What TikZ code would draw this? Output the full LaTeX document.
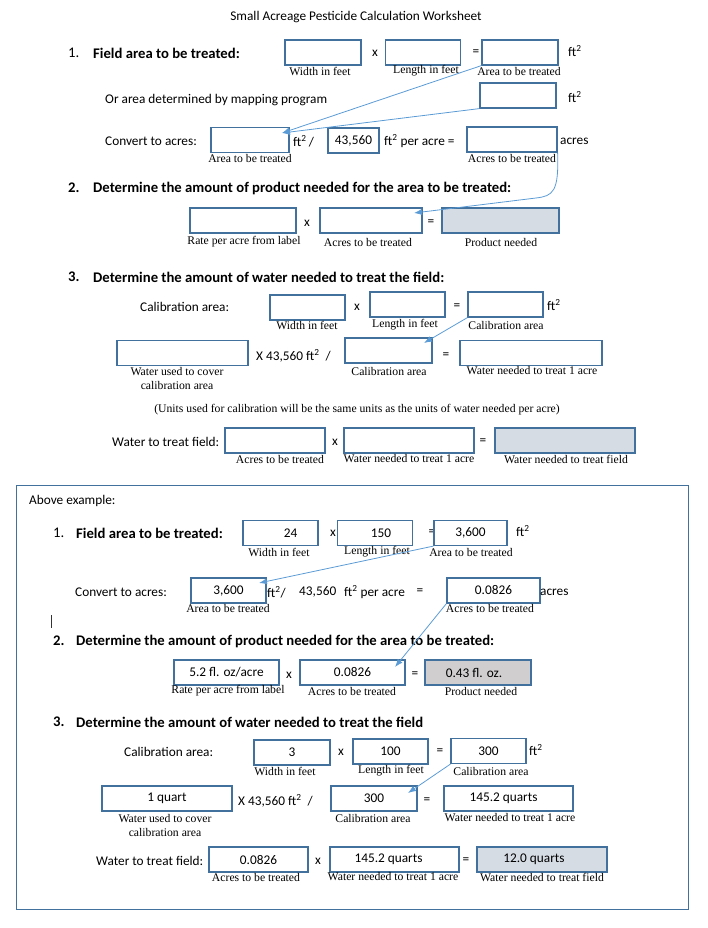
\documentclass[tikz,border=0pt]{standalone}
\usepackage{fontspec}
\setmainfont{Carlito}
\newfontfamily\lblfont{Liberation Serif}
\usepackage{tikz}
\usetikzlibrary{arrows.meta}
\definecolor{boxblue}{HTML}{41719C}
\definecolor{arrowblue}{HTML}{5B9BD5}
\definecolor{shadeblue}{HTML}{D6DCE4}
\definecolor{shadegray}{HTML}{D0CECE}
\begin{document}
\begin{tikzpicture}[x=1pt,y=-1pt]

\tikzstyle{txt}=[font=\fontsize{13.3}{16}\selectfont, inner sep=0pt]
\tikzstyle{lefttxt}=[txt, anchor=west]
\tikzstyle{num}=[font=\fontsize{14.7}{17}\selectfont, inner sep=0pt, anchor=west]
\tikzstyle{head}=[font=\fontsize{14.7}{17}\selectfont\bfseries, inner sep=0pt, anchor=west]
\tikzstyle{lbl}=[font=\lblfont\fontsize{11.7}{14}\selectfont, inner sep=0pt, align=center]
\tikzstyle{box}=[rectangle, draw=boxblue, line width=1.2pt, minimum height=25pt, font=\fontsize{13.3}{16}\selectfont]
\tikzstyle{shaded}=[box, fill=shadeblue]
\tikzstyle{arr}=[draw=arrowblue, line width=0.8pt, -{Latex[length=8pt,width=6pt]}]
\newcommand{\ftsq}{ft\textsuperscript{2}}

\useasboundingbox (0,0) rectangle (707,928);

\node[txt] (title) at (356,17) {Small Acreage Pesticide Calculation Worksheet};

% worksheet, step 1
\node[num] (one) at (68,53) {1.};
\node[head] (fieldhead) at (93,53) {Field area to be treated:};
\node[box, minimum width=76pt] (width) at (323,52.5) {};
\node[txt] (times1) at (375,53) {x};
\node[box, minimum width=75pt] (length) at (423,52.5) {};
\node[txt] (eq1) at (476,53) {=};
\node[box, minimum width=76pt] (area) at (520,52.5) {};
\node[lefttxt] (ft1) at (568,51) {\ftsq};
\node[lbl] (widthl) at (320,71) {Width in feet};
\node[lbl] (lengthl) at (426,71) {Length in feet};
\node[lbl] (areal) at (519,71) {Area to be treated};

\node[lefttxt] (mapping) at (105,100) {Or area determined by mapping program};
\node[box, minimum width=76pt] (maparea) at (518,95.5) {};
\node[lefttxt] (ft2) at (568,97) {\ftsq};

\node[lefttxt] (convert) at (105,141) {Convert to acres:};
\node[box, minimum width=78pt] (convarea) at (250,140) {};
\node[lefttxt] (per1) at (293,141) {\ftsq\,/};
\node[box, minimum width=51pt] (factor) at (353.5,140.5) {43,560};
\node[lefttxt] (per2) at (384,141) {\ftsq\ per acre =};
\node[box, minimum width=90pt] (acres) at (512,139.5) {};
\node[lefttxt] (acresu) at (560,141) {acres};
\node[lbl] (convareal) at (250,158) {Area to be treated};
\node[lbl] (acresl) at (512,158) {Acres to be treated};

% worksheet, step 2
\node[head] (two) at (68,188) {2.};
\node[head] (producthead) at (93,188) {Determine the amount of product needed for the area to be treated:};
\node[box, minimum width=106pt] (rate) at (243,220.5) {};
\node[txt] (times2) at (307,223) {x};
\node[box, minimum width=102pt] (prodacres) at (371,220.5) {};
\node[txt] (eq2) at (431,223) {=};
\node[shaded, minimum width=117pt] (product) at (500.5,220.5) {};
\node[lbl] (ratel) at (244,242) {Rate per acre from label};
\node[lbl] (prodacresl) at (368,242) {Acres to be treated};
\node[lbl] (productl) at (501,242) {Product needed};

% worksheet, step 3
\node[head] (three) at (68,277) {3.};
\node[head] (waterhead) at (93,277) {Determine the amount of water needed to treat the field:};
\node[lefttxt] (calib) at (140,307) {Calibration area:};
\node[box, minimum width=75pt] (cwidth) at (307.5,307.5) {};
\node[txt] (times3) at (357,307) {x};
\node[box, minimum width=75pt] (clength) at (407.5,304.5) {};
\node[txt] (eq3) at (457,307) {=};
\node[box, minimum width=75pt] (carea) at (505.5,304.5) {};
\node[lefttxt] (ft3) at (547,305) {\ftsq};
\node[lbl] (cwidthl) at (307,325) {Width in feet};
\node[lbl] (clengthl) at (405,325) {Length in feet};
\node[lbl] (careal) at (506,325) {Calibration area};

\node[box, minimum width=131pt] (used) at (182.5,353) {};
\node[lefttxt] (mult) at (256,356) {X 43,560 \ftsq\ \ /};
\node[box, minimum width=87pt] (divarea) at (388.5,350.5) {};
\node[txt] (eq4) at (446,356) {=};
\node[box, minimum width=142pt] (peracre) at (531,353) {};
\node[lbl] (usedl) at (177,378) {Water used to cover\\calibration area};
\node[lbl] (divareal) at (389,371) {Calibration area};
\node[lbl] (peracrel) at (532,371) {Water needed to treat 1 acre};

\node[lbl] (units) at (357,410) {(Units used for calibration will be the same units as the units of water needed per acre)};

\node[lefttxt] (field) at (112,442) {Water to treat field:};
\node[box, minimum width=100pt] (facres) at (275,440.5) {};
\node[txt] (times4) at (335,442) {x};
\node[box, minimum width=130pt] (fper) at (409,440.5) {};
\node[txt] (eq5) at (483,442) {=};
\node[shaded, minimum width=140pt] (fwater) at (565,440.5) {};
\node[lbl] (facresl) at (280,459) {Acres to be treated};
\node[lbl] (fperl) at (409,459) {Water needed to treat 1 acre};
\node[lbl] (fwaterl) at (566,459) {Water needed to treat field};

\coordinate (tipA) at (282,133);
\coordinate (tipB) at (414,213);
\coordinate (tipC) at (424,343);
\draw[arr] (area.south west) -- (tipA);
\draw[arr] (maparea.south west) -- (tipA);
\draw[arr] (acres.south east) .. controls (559,192) and (553,196) .. (536,198) -- (tipB);
\draw[arr] (carea.south west) -- (tipC);

% worked example
\draw[draw=boxblue, line width=1pt] (16.5,485) rectangle (688,909);
\node[lefttxt] (above) at (29,501) {Above example:};

\node[num] (exone) at (53,533) {1.};
\node[head] (exfieldhead) at (76,533) {Field area to be treated:};
\node[box, minimum width=75pt] (exwidth) at (280.5,533) {\hspace*{20pt}24};
\node[txt] (extimes1) at (333,533) {x};
\node[box, minimum width=75pt] (exlength) at (375,533) {\hspace*{12pt}150};
\node[txt] (exeq1) at (432,533) {=};
\node[box, minimum width=73pt] (exarea) at (470.5,533) {3,600};
\node[lefttxt] (exft1) at (516,531) {\ftsq};
\node[lbl] (exwidthl) at (279,552) {Width in feet};
\node[lbl] (exlengthl) at (377,552) {Length in feet};
\node[lbl] (exareal) at (471,552) {Area to be treated};

\node[lefttxt] (exconvert) at (75,592) {Convert to acres:};
\node[box, minimum width=75pt] (exconvarea) at (228.5,590.5) {3,600};
\node[lefttxt] (exper1) at (267,592) {\ftsq/};
\node[lefttxt] (exfactor) at (299,592) {43,560};
\node[lefttxt] (exper2) at (344,592) {\ftsq\ per acre};
\node[txt] (exeq2) at (420,592) {=};
\node[box, minimum width=93pt] (exacres) at (493.5,590.5) {0.0826};
\node[lefttxt] (exacresu) at (540,592) {acres};
\node[lbl] (exconvareal) at (228,608) {Area to be treated};
\node[lbl] (exacresl) at (490,608) {Acres to be treated};
\draw[black!80, line width=0.6pt] (51,615) -- (51,628);

\node[head] (extwo) at (53,641) {2.};
\node[head] (exproducthead) at (76,641) {Determine the amount of product needed for the area to be treated:};
\node[box, minimum width=105pt] (exrate) at (226.5,672.5) {5.2 fl. oz/acre};
\node[txt] (extimes2) at (289,675) {x};
\node[box, minimum width=105pt] (exprodacres) at (352.5,672.5) {0.0826};
\node[txt] (exeq3) at (415,675) {=};
\node[box, fill=shadegray, minimum width=106pt] (exproduct) at (478,672.5) {0.43 fl. oz.\hspace*{8pt}};
\node[lbl] (exratel) at (228,691) {Rate per acre from label};
\node[lbl] (exprodacresl) at (352,691) {Acres to be treated};
\node[lbl] (exproductl) at (481,691) {Product needed};

\node[head] (exthree) at (53,722) {3.};
\node[head] (exwaterhead) at (76,722) {Determine the amount of water needed to treat the field};
\node[lefttxt] (excalib) at (124,752) {Calibration area:};
\node[box, minimum width=76pt] (excwidth) at (292,752.5) {3};
\node[txt] (extimes3) at (341,752) {x};
\node[box, minimum width=75pt] (exclength) at (390.5,751.5) {100};
\node[txt] (exeq4) at (440,752) {=};
\node[box, minimum width=75pt] (excarea) at (488.5,751) {300};
\node[lefttxt] (exft3) at (529,750) {\ftsq};
\node[lbl] (excwidthl) at (285,771) {Width in feet};
\node[lbl] (exclengthl) at (391,771) {Length in feet};
\node[lbl] (excareal) at (491,771) {Calibration area};

\node[box, minimum width=130pt] (exused) at (167,798.5) {1 quart};
\node[lefttxt] (exmult) at (238,801) {X 43,560 \ftsq\ \ /};
\node[box, minimum width=86pt] (exdivarea) at (374,798.5) {300};
\node[txt] (exeq5) at (427,801) {=};
\node[box, minimum width=129pt] (experacre) at (508.5,798.5) {145.2 quarts\hspace*{10pt}};
\node[lbl] (exusedl) at (165,825) {Water used to cover\\calibration area};
\node[lbl] (exdivareal) at (373,818) {Calibration area};
\node[lbl] (experacrel) at (510,818) {Water needed to treat 1 acre};

\node[lefttxt] (exfield) at (96,861) {Water to treat field:};
\node[box, minimum width=99pt] (exfacres) at (258.5,859.5) {0.0826};
\node[txt] (extimes4) at (318,861) {x};
\node[box, minimum width=129pt] (exfper) at (394.5,859.5) {145.2 quarts\hspace*{12pt}};
\node[txt] (exeq6) at (466,861) {=};
\node[shaded, minimum width=130pt] (exfwater) at (542,859.5) {12.0 quarts\hspace*{16pt}};
\node[lbl] (exfacresl) at (256,877) {Acres to be treated};
\node[lbl] (exfperl) at (393,877) {Water needed to treat 1 acre};
\node[lbl] (exfwaterl) at (542,877) {Water needed to treat field};

\coordinate (tipD) at (259,583);
\coordinate (tipE) at (395,667);
\coordinate (tipF) at (408,793);
\draw[arr] (exarea.south west) -- (tipD);
\draw[arr] (exacres.south west) -- (tipE);
\draw[arr] (excarea.south west) -- (tipF);
\end{tikzpicture}
\end{document}
